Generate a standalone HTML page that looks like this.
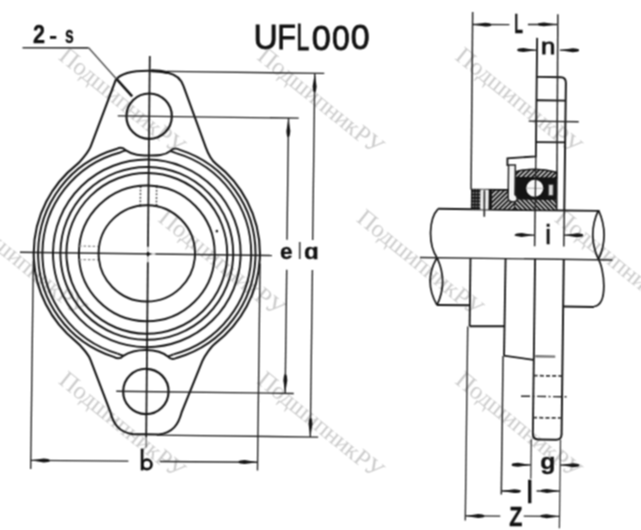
<!DOCTYPE html>
<html><head><meta charset="utf-8"><style>
html,body{margin:0;padding:0;background:#fff;}
body{width:641px;height:530px;overflow:hidden;}
svg{display:block;}
.wm{font-family:"Liberation Serif",serif;font-size:24.5px;fill:#cccccc;}
.t{font-family:"Liberation Sans",sans-serif;fill:#111;}
</style></head><body>
<svg width="641" height="530" viewBox="0 0 641 530">
<defs><filter id="bl" x="0" y="0" width="100%" height="100%" filterUnits="userSpaceOnUse" color-interpolation-filters="sRGB"><feConvolveMatrix order="3" kernelMatrix="1 2 1 2 4 2 1 2 1" divisor="16" edgeMode="duplicate"/></filter></defs>
<rect width="641" height="530" fill="#fff"/>
<g filter="url(#bl)">
<text x="57.5" y="58.5" transform="rotate(39 57.5 58.5)" class="wm" textLength="154">ПодшипникРУ</text>
<text x="256.0" y="58.5" transform="rotate(39 256.0 58.5)" class="wm" textLength="154">ПодшипникРУ</text>
<text x="454.0" y="58.5" transform="rotate(39 454.0 58.5)" class="wm" textLength="154">ПодшипникРУ</text>
<text x="-41.0" y="220.5" transform="rotate(39 -41.0 220.5)" class="wm" textLength="154">ПодшипникРУ</text>
<text x="157.0" y="220.5" transform="rotate(39 157.0 220.5)" class="wm" textLength="154">ПодшипникРУ</text>
<text x="355.5" y="220.5" transform="rotate(39 355.5 220.5)" class="wm" textLength="154">ПодшипникРУ</text>
<text x="553.5" y="220.5" transform="rotate(39 553.5 220.5)" class="wm" textLength="154">ПодшипникРУ</text>
<text x="57.5" y="382.5" transform="rotate(39 57.5 382.5)" class="wm" textLength="154">ПодшипникРУ</text>
<text x="256.0" y="382.5" transform="rotate(39 256.0 382.5)" class="wm" textLength="154">ПодшипникРУ</text>
<text x="454.0" y="382.5" transform="rotate(39 454.0 382.5)" class="wm" textLength="154">ПодшипникРУ</text>
<g transform="rotate(0.72 148 254)" stroke-linecap="butt">
<line x1="147.3" y1="56" x2="148.5" y2="437.5" stroke="#151515" stroke-width="1.72" />
<line x1="148.5" y1="437.5" x2="148.55" y2="447.5" stroke="#666" stroke-width="1.26" />
<circle cx="216.6" cy="230.3" r="1.3" fill="#222"/>
<line x1="20" y1="253.9" x2="272" y2="253.9" stroke="#222" stroke-width="1.38" />
<rect x="146.6" y="246.8" width="3.2" height="5.2" fill="#fff" opacity="0.75"/>
<rect x="146.6" y="256.3" width="3.2" height="6" fill="#fff" opacity="0.75"/>
<rect x="151.4" y="252.4" width="4" height="3.2" fill="#fff" opacity="0.7"/>
<circle cx="148.1" cy="254" r="1.7" fill="#111"/>
<circle cx="146.8" cy="253.4" r="93.8" stroke="#141414" stroke-width="1.95" fill="none"/>
<circle cx="146.8" cy="253.4" r="86.4" stroke="#141414" stroke-width="1.95" fill="none"/>
<circle cx="146.8" cy="253.4" r="80.4" stroke="#141414" stroke-width="1.95" fill="none"/>
<circle cx="146.8" cy="253.4" r="67.9" stroke="#141414" stroke-width="1.95" fill="none"/>
<circle cx="146.8" cy="253.4" r="48.2" stroke="#141414" stroke-width="1.95" fill="none"/>
<path d="M75.62,165.50 C79.51,162.35 87.51,152.13 89.58,146.50 L113.6,80.2 C118.5,73.5 132,70.7 147.5,70.7 C155,70.7 160.5,71.3 165.5,72.4 C172.5,73.8 178.5,77.5 181.3,85.5 L204.33,146.50 C206.45,152.11 210.88,160.06 214.87,163.07 A113.1,113.1 0 0 1 216.43,342.52 C212.49,345.60 205.84,354.91 203.66,360.50 L183.6,412 C180.5,424 175,432.6 161,434.3 L135,434.3 C121,432.6 115.3,424 112.2,412 L91.84,360.50 C89.64,354.92 81.11,345.60 77.17,342.52 A113.1,113.1 0 0 1 75.62,165.50 Z" stroke="#141414" stroke-width="2.07" fill="none" />
<path d="M115.02,357.35 A108.7,108.7 0 0 1 115.02,149.45 C119.4,147.1 122.2,147.9 124.2,150.4 C132,155.7 140,155.5 147.6,155.5 C155,155.5 163,155.7 169.4,150.4 C171.4,147.9 174.2,147.1 178.58,149.45 A108.7,108.7 0 0 1 178.58,357.35 C174.2,359.7 171.4,358.9 169.4,356.4 C163,351.3 155,350.1 147.6,350.1 C140,350.1 132,351.3 124.2,356.4 C122.2,358.9 119.4,359.7 115.02,357.35 Z" stroke="#141414" stroke-width="1.95" fill="none" />
<path d="M118.90,354.00 A104.4,104.4 0 0 1 118.90,152.80 Q122.2,151.3 124.6,150.7" stroke="#141414" stroke-width="1.95" fill="none" />
<path d="M174.70,152.80 A104.4,104.4 0 0 1 174.70,354.00" stroke="#141414" stroke-width="1.95" fill="none" />
<path d="M169,150.7 Q171.4,151.3 174.70,152.80" stroke="#141414" stroke-width="1.95" fill="none" />
<path d="M174.70,354.00 Q171.4,355.5 169,356.1" stroke="#141414" stroke-width="1.95" fill="none" />
<path d="M124.6,356.1 Q122.2,355.5 118.90,354.00" stroke="#141414" stroke-width="1.95" fill="none" />
<circle cx="147.4" cy="116.2" r="22.7" stroke="#141414" stroke-width="2.18" fill="none"/>
<circle cx="147.6" cy="391.5" r="22.7" stroke="#141414" stroke-width="2.18" fill="none"/>
<line x1="116" y1="116.3" x2="297" y2="116.3" stroke="#222" stroke-width="1.38" />
<line x1="118" y1="391.6" x2="295.5" y2="391.6" stroke="#222" stroke-width="1.38" />
<line x1="139.7" y1="186.0" x2="139.7" y2="206.0" stroke="#555" stroke-width="1.49" stroke-dasharray="2,1.6"/>
<circle cx="139.7" cy="186.3" r="1.3" fill="#222"/>
<circle cx="139.7" cy="205.6" r="1.3" fill="#222"/>
<line x1="155.8" y1="186.0" x2="155.8" y2="206.0" stroke="#555" stroke-width="1.49" stroke-dasharray="2,1.6"/>
<circle cx="155.8" cy="186.3" r="1.3" fill="#222"/>
<circle cx="155.8" cy="205.6" r="1.3" fill="#222"/>
<line x1="79" y1="247.0" x2="98" y2="247.0" stroke="#888" stroke-width="1.26" stroke-dasharray="2.5,2"/>
<line x1="79" y1="260.4" x2="98" y2="260.4" stroke="#888" stroke-width="1.26" stroke-dasharray="2.5,2"/>
<line x1="164.5" y1="71.2" x2="322" y2="71.2" stroke="#222" stroke-width="1.38" />
<line x1="159" y1="435.0" x2="320.5" y2="435.0" stroke="#222" stroke-width="1.38" />
<line x1="312.5" y1="71.2" x2="312.5" y2="238" stroke="#222" stroke-width="1.38" />
<line x1="312.6" y1="268" x2="312.6" y2="435.0" stroke="#222" stroke-width="1.38" />
<path d="M312.50,71.20 L310.55,84.12 Q310.94,89.20 311.80,90.20 L313.20,90.20 Q314.06,89.20 314.45,84.12 Z" fill="#141414"/>
<path d="M312.60,435.00 L314.55,422.08 Q314.16,417.00 313.30,416.00 L311.90,416.00 Q311.04,417.00 310.65,422.08 Z" fill="#141414"/>
<line x1="286.8" y1="116.3" x2="286.8" y2="238" stroke="#222" stroke-width="1.38" />
<line x1="286.9" y1="268" x2="286.9" y2="391.6" stroke="#222" stroke-width="1.38" />
<path d="M286.80,116.30 L284.85,129.22 Q285.24,134.30 286.10,135.30 L287.50,135.30 Q288.36,134.30 288.75,129.22 Z" fill="#141414"/>
<path d="M286.90,391.60 L288.85,378.68 Q288.46,373.60 287.60,372.60 L286.20,372.60 Q285.34,373.60 284.95,378.68 Z" fill="#141414"/>
<line x1="33.4" y1="262" x2="33.4" y2="470.5" stroke="#222" stroke-width="1.38" />
<line x1="260.2" y1="262" x2="260.2" y2="469" stroke="#222" stroke-width="1.38" />
<line x1="33.4" y1="461.8" x2="131" y2="461.4" stroke="#222" stroke-width="1.38" />
<line x1="162.5" y1="461.3" x2="260.2" y2="460.8" stroke="#222" stroke-width="1.38" />
<path d="M33.40,461.80 L46.32,463.75 Q51.40,463.36 52.40,462.50 L52.40,461.10 Q51.40,460.24 46.32,459.85 Z" fill="#141414"/>
<path d="M260.20,460.80 L247.28,458.85 Q242.20,459.24 241.20,460.10 L241.20,461.50 Q242.20,462.36 247.28,462.75 Z" fill="#141414"/>
<line x1="19.9" y1="49.3" x2="86" y2="48.6" stroke="#333" stroke-width="1.61" />
<line x1="86" y1="48.6" x2="114.5" y2="79.6" stroke="#555" stroke-width="1.49" />
<path d="M114.5,79.6 L130.2,96.5" stroke="#141414" stroke-width="2.53" fill="none" />
<path d="M149,70.75 C155,70.75 160.5,71.3 165.5,72.4" stroke="#141414" stroke-width="2.99" fill="none" />
<line x1="437.5" y1="205.2" x2="598" y2="205.2" stroke="#141414" stroke-width="1.95" />
<line x1="437.6" y1="301.3" x2="470.4" y2="301.3" stroke="#141414" stroke-width="1.95" />
<line x1="563.8" y1="301.3" x2="594.6" y2="301.3" stroke="#141414" stroke-width="1.95" />
<path d="M437.5,205.2 C428.5,215 427.5,240 437,254.1 Q423.6,277.8 437.6,301.5 M437,254.1 Q448.6,277.8 437.6,301.5" stroke="#141414" stroke-width="1.72" fill="none" />
<path d="M597.9,204.5 Q586.8,229.2 598.5,253.8 M597.9,204.5 Q609.4,229.2 598.5,253.8 C604,262 609.5,299 594.6,300.9" stroke="#141414" stroke-width="1.72" fill="none" />
<line x1="420" y1="254.1" x2="612.5" y2="254.1" stroke="#222" stroke-width="1.38" />
<path d="M534.4,33 L534.6,151.5 L506.2,153.9 L506.3,161.5" stroke="#141414" stroke-width="1.84" fill="none" />
<path d="M534.6,72.8 Q534.6,72 536,72 L558.5,72 Q563.7,72 563.7,77.8 L563.7,205.2" stroke="#141414" stroke-width="1.95" fill="none" />
<line x1="534.6" y1="95.4" x2="563.7" y2="95.4" stroke="#141414" stroke-width="1.84" />
<line x1="534.6" y1="137.2" x2="563.7" y2="137.2" stroke="#141414" stroke-width="1.84" />
<line x1="527" y1="116.3" x2="577" y2="116.3" stroke="#222" stroke-width="1.38" />
<line x1="554.8" y1="9" x2="556.2" y2="205.2" stroke="#222" stroke-width="1.49" />
<line x1="469.6" y1="8" x2="470.2" y2="185.5" stroke="#222" stroke-width="1.49" />
<defs><pattern id="hat" patternUnits="userSpaceOnUse" width="3.3" height="3.3" patternTransform="rotate(-45)"><rect width="3.3" height="3.3" fill="#151515"/><rect width="1.3" height="3.3" fill="#f2f2f2"/></pattern><pattern id="hat2" patternUnits="userSpaceOnUse" width="3.3" height="3.3" patternTransform="rotate(45)"><rect width="3.3" height="3.3" fill="#151515"/><rect width="1.3" height="3.3" fill="#f2f2f2"/></pattern><pattern id="xh" patternUnits="userSpaceOnUse" width="4" height="4" patternTransform="rotate(45)"><rect width="4" height="4" fill="#161616"/><rect width="1.1" height="4" fill="#e8e8e8"/><rect width="4" height="1.1" fill="#e8e8e8"/></pattern><pattern id="dots" patternUnits="userSpaceOnUse" width="3" height="3.4"><rect width="3" height="3.4" fill="#161616"/><circle cx="1.5" cy="1.7" r="0.75" fill="#bbb"/></pattern></defs>
<rect x="513.8" y="171.5" width="42" height="23" fill="#141414"/>
<path d="M514.6,167.2 Q534,161.4 555.5,167.2 L555.5,173 L514.6,173 Z" stroke="#111" stroke-width="1.49" fill="url(#hat2)" />
<path d="M513.8,194.5 L555.5,194.5 L555.5,205.2 L513.8,205.2 Z" stroke="#111" stroke-width="0.92" fill="url(#hat)" />
<path d="M490.7,185.4 L508,185.4 L508,194.5 L514,194.5 L514,205.2 L490.7,205.2 Z" stroke="#111" stroke-width="0.92" fill="url(#hat2)" />
<circle cx="533.9" cy="183.4" r="9.4" stroke="#111" stroke-width="1.84" fill="#fafafa"/>
<line x1="525" y1="183.4" x2="542.8" y2="183.4" stroke="#aaa" stroke-width="0.92" />
<line x1="534.6" y1="151" x2="534.6" y2="205.2" stroke="#222" stroke-width="1.38" />
<path d="M507.4,160.4 L514.2,160.4 L514.2,190 Q516.5,191.5 516.5,194 Q516.5,197.2 511.8,197.2 Q507.4,197.2 507.4,193 Z" stroke="#222" stroke-width="1.49" fill="#f6f6f6" />
<path d="M547.8,179.5 L552.3,179.5 L552.3,190.5 L547.8,190.5 Z" stroke="#444" stroke-width="0.92" fill="#dcdcdc" />
<path d="M470.2,185.4 L508,185.4" stroke="#141414" stroke-width="1.61" fill="none" />
<rect x="470.2" y="185.4" width="9.6" height="19.9" fill="url(#dots)"/>
<rect x="479.8" y="185.4" width="8.2" height="19.9" fill="#f2f2f2"/>
<rect x="487.9" y="185.4" width="3" height="19.9" fill="#141414"/>
<line x1="483.6" y1="186" x2="483.8" y2="212.5" stroke="#2a2a2a" stroke-width="1.72" />
<line x1="470.5" y1="254.1" x2="470.5" y2="322.2" stroke="#141414" stroke-width="1.84" />
<line x1="470.5" y1="322.2" x2="505.5" y2="321.8" stroke="#141414" stroke-width="1.84" />
<line x1="505.6" y1="254.1" x2="505.3" y2="351.1" stroke="#141414" stroke-width="1.84" />
<path d="M504.9,351.1 L534.8,355" stroke="#141414" stroke-width="1.84" fill="none" />
<line x1="535.1" y1="254.1" x2="535.1" y2="429.5" stroke="#141414" stroke-width="1.84" />
<line x1="563.8" y1="254.1" x2="563.8" y2="429.5" stroke="#141414" stroke-width="1.95" />
<path d="M535.1,429 Q535.1,434.6 540.6,434.6 L558.3,434.6 Q563.8,434.6 563.8,429" stroke="#141414" stroke-width="1.95" fill="none" />
<line x1="534.5" y1="205.2" x2="534.5" y2="241.3" stroke="#222" stroke-width="1.49" />
<line x1="563.7" y1="205.2" x2="563.7" y2="241.3" stroke="#222" stroke-width="1.49" />
<line x1="536.5" y1="351.4" x2="556.5" y2="351.4" stroke="#777" stroke-width="2.30" />
<line x1="535.1" y1="370.8" x2="563.8" y2="370.8" stroke="#333" stroke-width="1.72" stroke-dasharray="4,2.2"/>
<line x1="535.1" y1="412.8" x2="563.8" y2="412.8" stroke="#333" stroke-width="1.72" stroke-dasharray="4,2.2"/>
<line x1="522.8" y1="391.5" x2="570.6" y2="391.5" stroke="#222" stroke-width="1.38" stroke-dasharray="9,2.5,2,2.5"/>
<line x1="468.6" y1="322.5" x2="468.6" y2="516.5" stroke="#2a2a2a" stroke-width="1.38" />
<line x1="504.3" y1="351.5" x2="504.3" y2="490" stroke="#222" stroke-width="1.49" />
<line x1="533.6" y1="434.6" x2="533.6" y2="474" stroke="#333" stroke-width="1.26" />
<line x1="562.8" y1="434.6" x2="562.8" y2="523" stroke="#333" stroke-width="1.26" />
<line x1="469.3" y1="20.4" x2="506.5" y2="20.1" stroke="#222" stroke-width="1.38" />
<line x1="525" y1="19.7" x2="554.1" y2="19.4" stroke="#222" stroke-width="1.38" />
<path d="M469.30,20.40 L482.22,22.35 Q487.30,21.96 488.30,21.10 L488.30,19.70 Q487.30,18.84 482.22,18.45 Z" fill="#141414"/>
<path d="M554.10,19.40 L541.18,17.45 Q536.10,17.84 535.10,18.70 L535.10,20.10 Q536.10,20.96 541.18,21.35 Z" fill="#141414"/>
<line x1="515.3" y1="45.6" x2="533.8" y2="45.3" stroke="#222" stroke-width="1.38" />
<path d="M533.80,45.30 L520.88,43.35 Q515.80,43.74 514.80,44.60 L514.80,46.00 Q515.80,46.86 520.88,47.25 Z" fill="#141414"/>
<line x1="557.2" y1="45.0" x2="576.4" y2="44.8" stroke="#222" stroke-width="1.38" />
<path d="M557.20,45.00 L570.12,46.95 Q575.20,46.56 576.20,45.70 L576.20,44.30 Q575.20,43.44 570.12,43.05 Z" fill="#141414"/>
<line x1="514.4" y1="230.5" x2="534.1" y2="230.3" stroke="#222" stroke-width="1.38" />
<path d="M534.10,230.30 L521.18,228.35 Q516.10,228.74 515.10,229.60 L515.10,231.00 Q516.10,231.86 521.18,232.25 Z" fill="#141414"/>
<line x1="563.8" y1="229.9" x2="582.6" y2="229.6" stroke="#222" stroke-width="1.38" />
<path d="M563.80,229.90 L576.72,231.85 Q581.80,231.46 582.80,230.60 L582.80,229.20 Q581.80,228.34 576.72,227.95 Z" fill="#141414"/>
<line x1="514.5" y1="460.4" x2="533.5" y2="460.1" stroke="#222" stroke-width="1.38" />
<path d="M533.50,460.10 L520.58,458.15 Q515.50,458.54 514.50,459.40 L514.50,460.80 Q515.50,461.66 520.58,462.05 Z" fill="#141414"/>
<line x1="562.8" y1="459.9" x2="582.0" y2="459.7" stroke="#222" stroke-width="1.38" />
<path d="M562.80,459.90 L575.72,461.85 Q580.80,461.46 581.80,460.60 L581.80,459.20 Q580.80,458.34 575.72,457.95 Z" fill="#141414"/>
<line x1="504.3" y1="486.5" x2="523.5" y2="486.3" stroke="#222" stroke-width="1.38" />
<path d="M504.30,486.50 L517.22,488.45 Q522.30,488.06 523.30,487.20 L523.30,485.80 Q522.30,484.94 517.22,484.55 Z" fill="#141414"/>
<line x1="539.5" y1="486.1" x2="562.8" y2="485.9" stroke="#222" stroke-width="1.38" />
<path d="M562.80,485.90 L549.88,483.95 Q544.80,484.34 543.80,485.20 L543.80,486.60 Q544.80,487.46 549.88,487.85 Z" fill="#141414"/>
<line x1="468.6" y1="511.9" x2="503.5" y2="511.7" stroke="#222" stroke-width="1.38" />
<path d="M468.60,511.90 L481.52,513.85 Q486.60,513.46 487.60,512.60 L487.60,511.20 Q486.60,510.34 481.52,509.95 Z" fill="#141414"/>
<line x1="527" y1="511.4" x2="562.8" y2="511.2" stroke="#222" stroke-width="1.38" />
<path d="M562.80,511.20 L549.88,509.25 Q544.80,509.64 543.80,510.50 L543.80,511.90 Q544.80,512.76 549.88,513.15 Z" fill="#141414"/>
</g>
<g class="t">
<text transform="translate(253.61 48.95) scale(0.948 1)" font-size="35.43" font-weight="normal" stroke="#111" stroke-width="0.8">U</text>
<text transform="translate(277.25 49.40) scale(0.852 1)" font-size="35.94" font-weight="normal" stroke="#111" stroke-width="0.8">F</text>
<text transform="translate(296.13 49.60) scale(0.649 1)" font-size="36.09" font-weight="normal" stroke="#111" stroke-width="0.8">L</text>
<text transform="translate(311.83 49.65) scale(0.974 1)" font-size="35.07" font-weight="normal" stroke="#111" stroke-width="0.8">0</text>
<text transform="translate(332.12 49.65) scale(0.909 1)" font-size="35.07" font-weight="normal" stroke="#111" stroke-width="0.8">0</text>
<text transform="translate(350.64 49.45) scale(0.972 1)" font-size="34.93" font-weight="normal" stroke="#111" stroke-width="0.8">0</text>
<text transform="translate(33.05 43.10) scale(0.865 1)" font-size="25.00" font-weight="bold" stroke="#111" stroke-width="0.3">2</text>
<text transform="translate(64.97 42.86) scale(0.661 1)" font-size="23.82" font-weight="bold" stroke="#111" stroke-width="0.3">s</text>
<text transform="translate(279.99 258.87) scale(0.999 1)" font-size="22.73" font-weight="bold" stroke="#111" stroke-width="0.3">e</text>
<text transform="translate(304.03 258.88) scale(1.100 1)" font-size="22.00" font-weight="bold" stroke="#111" stroke-width="0.3">ɑ</text>
<text transform="translate(514.20 33.10) scale(0.520 1)" font-size="27.54" font-weight="bold" stroke="#111" stroke-width="0.3">L</text>
<text transform="translate(541.10 53.50) scale(1.177 1)" font-size="21.85" font-weight="normal" stroke="#111" stroke-width="0.8">n</text>
<text transform="translate(545.55 244.00) scale(0.690 1)" font-size="27.95" font-weight="bold" stroke="#111" stroke-width="0.3">i</text>
<text transform="translate(540.20 469.04) scale(1.103 1)" font-size="22.67" font-weight="bold" stroke="#111" stroke-width="0.3">g</text>
<text transform="translate(526.40 503.00) scale(0.716 1)" font-size="31.92" font-weight="bold" stroke="#111" stroke-width="0.3">l</text>
<text transform="translate(509.25 525.90) scale(0.778 1)" font-size="27.83" font-weight="bold" stroke="#111" stroke-width="0.3">Z</text>
<rect x="50" y="36" width="6.3" height="2.8" fill="#111"/>
<path d="M142.1,448.6 L142.1,470.4" stroke="#111" stroke-width="2.7" fill="none"/>
<ellipse cx="146.9" cy="464.4" rx="4.6" ry="4.7" stroke="#111" stroke-width="2.7" fill="none"/>
<rect x="298.9" y="242" width="1.7" height="17" fill="#444"/>
</g>
</g>
</svg>
</body></html>
